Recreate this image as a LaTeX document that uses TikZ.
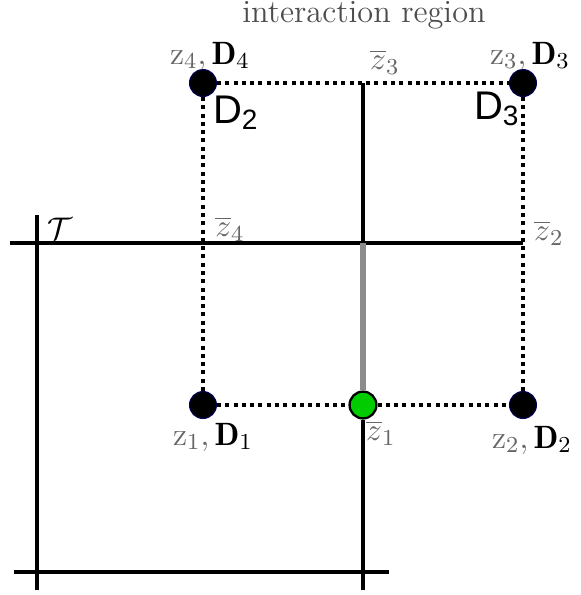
\documentclass[tikz,border=0pt]{standalone}
\usepackage{amsmath,amssymb}
\usepackage{fontspec}
\newfontfamily\sanslabel{Liberation Sans}
\usepackage{tikz}

\begin{document}
\begin{tikzpicture}[x=.35pt,y=-.35pt,line width=1.25pt,
  font=\fontsize{11.3}{13}\selectfont,
  dotline/.style={line width=1.4pt,dash pattern=on 1.4pt off 1.5pt},
  vertex/.style={circle,draw=black!70!blue,line width=.4pt,fill=black,minimum size=9.4pt,inner sep=0pt},
  hit/.style={circle,draw=black,line width=.8pt,fill=green!80!black,minimum size=9.4pt,inner sep=0pt},
  lbl/.style={inner sep=1pt,text=black!60}]
  \useasboundingbox (0,0) rectangle (580,595);
  % Eckpunkte des Wechselwirkungsgebiets
  \node[vertex] (z4) at (203,83) {};
  \node[vertex] (z3) at (523,83) {};
  \node[vertex] (z1) at (203,405) {};
  \node[vertex] (z2) at (523,405) {};
  \node[hit] (zb1) at (363,405) {};
  \coordinate (zb3) at (363,83);
  \coordinate (zb4) at (203,243);
  \coordinate (zb2) at (523,243);
  \coordinate (cross) at (363,243);
  % Gitterlinien
  \draw (10,243) -- (zb4) -- (cross) -- (zb2);
  \draw (37,215) -- (37,590);
  \draw (14,572) -- (389,572);
  \draw (zb1) -- (363,590);
  \draw (zb3) -- (cross);
  \draw[line width=2.2pt,black!45] (cross) -- (zb1);
  % gepunkteter Rand
  \draw[dotline] (z4) -- (zb3) -- (z3);
  \draw[dotline] (z1) -- (zb1) -- (z2);
  \draw[dotline] (z4) -- (z1);
  \draw[dotline] (z3) -- (z2);
  % Beschriftungen
  \node[lbl,text=black!70] (title) at (364,15) {interaction region};
  \node[lbl] (l4) at (210,56) {$\mathrm{z}_4,\textcolor{black}{\mathbf{D}_4}$};
  \node[lbl] (l3) at (530,56) {$\mathrm{z}_3,\textcolor{black}{\mathbf{D}_3}$};
  \node[lbl] (l1) at (213,437) {$\mathrm{z}_1,\textcolor{black}{\mathbf{D}_1}$};
  \node[lbl] (l2) at (532,440) {$\mathrm{z}_2,\textcolor{black}{\mathbf{D}_2}$};
  \node[lbl] (lb3) at (385,62) {$\overline{z}_3$};
  \node[lbl] (lb4) at (230,229) {$\overline{z}_4$};
  \node[lbl] (lb2) at (549,233) {$\overline{z}_2$};
  \node[lbl] (lb1) at (381,433) {$\overline{z}_1$};
  \node[inner sep=1pt] (tau) at (60,229) {$\mathcal{T}$};
  \node[inner sep=1pt,font=\fontsize{14}{16}\selectfont] (d2) at (236,113) {\sanslabel D$_{\text{\sanslabel 2}}$};
  \node[inner sep=1pt,font=\fontsize{14}{16}\selectfont] (d3) at (497,109) {\sanslabel D$_{\text{\sanslabel 3}}$};
\end{tikzpicture}
\end{document}
